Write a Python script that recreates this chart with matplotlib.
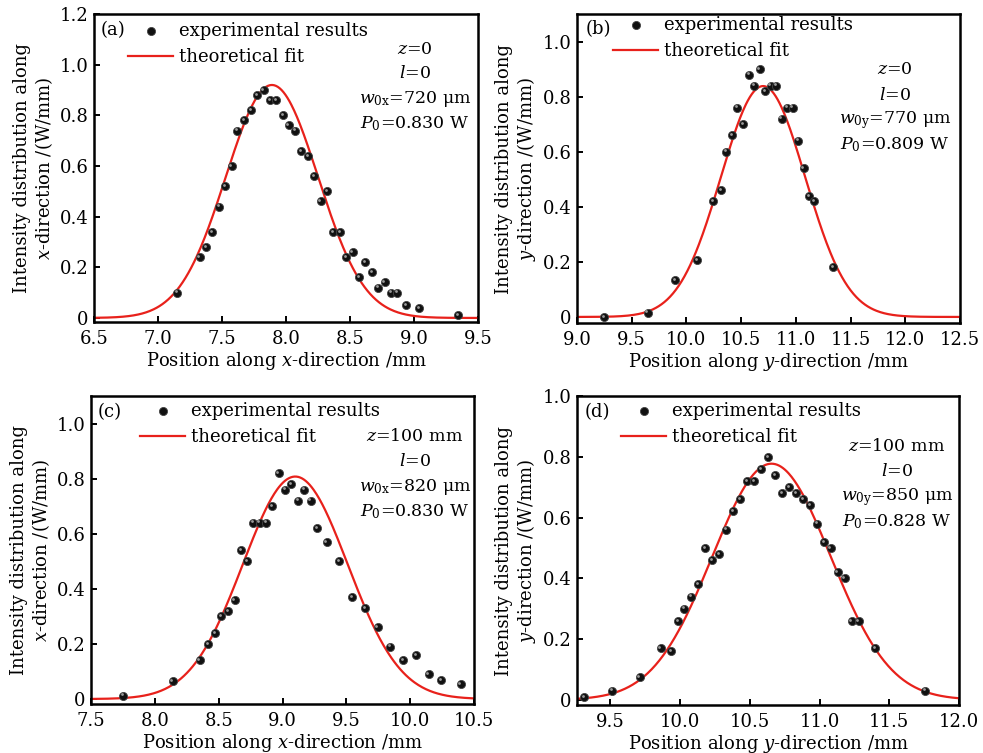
import numpy as np
import matplotlib
matplotlib.use("Agg")
import matplotlib.pyplot as plt
from matplotlib import transforms

plt.rcParams['font.family'] = ['DejaVu Serif']
plt.rcParams['mathtext.fontset'] = 'dejavuserif'

# (a) x-direction, z=0
xa = [7.15, 7.325, 7.375, 7.425, 7.475, 7.525, 7.575, 7.62, 7.675, 7.725, 7.775, 7.825,
      7.875, 7.92, 7.975, 8.02, 8.07, 8.12, 8.17, 8.22, 8.27, 8.32, 8.37, 8.42, 8.47,
      8.52, 8.57, 8.62, 8.67, 8.72, 8.77, 8.82, 8.87, 8.94, 9.04, 9.345]
ya = [0.10, 0.24, 0.28, 0.34, 0.44, 0.52, 0.60, 0.74, 0.78, 0.82, 0.88, 0.90,
      0.86, 0.86, 0.80, 0.76, 0.74, 0.66, 0.64, 0.56, 0.46, 0.50, 0.34, 0.34, 0.24,
      0.26, 0.16, 0.22, 0.18, 0.12, 0.14, 0.10, 0.10, 0.05, 0.04, 0.01]

# (b) y-direction, z=0
xb = [9.245, 9.645, 9.895, 10.095, 10.245, 10.32, 10.365, 10.415, 10.465, 10.52, 10.57,
      10.62, 10.67, 10.72, 10.77, 10.82, 10.87, 10.92, 10.97, 11.02, 11.07, 11.12,
      11.17, 11.34]
yb = [0.00, 0.016, 0.135, 0.205, 0.42, 0.46, 0.60, 0.66, 0.76, 0.70, 0.88,
      0.84, 0.90, 0.82, 0.84, 0.84, 0.72, 0.76, 0.76, 0.64, 0.54, 0.44,
      0.42, 0.18]

# (c) x-direction, z=100 mm
xc = [7.75, 8.14, 8.35, 8.42, 8.47, 8.52, 8.575, 8.625, 8.675, 8.725, 8.77, 8.82,
      8.87, 8.92, 8.97, 9.02, 9.07, 9.12, 9.17, 9.22, 9.27, 9.345, 9.445, 9.545,
      9.645, 9.745, 9.845, 9.945, 10.045, 10.145, 10.245, 10.395]
yc = [0.012, 0.064, 0.14, 0.20, 0.24, 0.30, 0.32, 0.36, 0.54, 0.50, 0.64, 0.64,
      0.64, 0.70, 0.82, 0.76, 0.78, 0.72, 0.76, 0.72, 0.62, 0.57, 0.50, 0.37,
      0.33, 0.26, 0.19, 0.14, 0.16, 0.09, 0.07, 0.055]

# (d) y-direction, z=100 mm
xd = [9.31, 9.51, 9.71, 9.86, 9.935, 9.985, 10.03, 10.08, 10.13, 10.18, 10.23, 10.28,
      10.33, 10.38, 10.43, 10.48, 10.53, 10.58, 10.63, 10.68, 10.73, 10.78, 10.83,
      10.88, 10.93, 10.98, 11.03, 11.08, 11.13, 11.18, 11.23, 11.28, 11.40, 11.755]
yd = [0.01, 0.03, 0.075, 0.17, 0.16, 0.26, 0.30, 0.34, 0.38, 0.50, 0.46, 0.48,
      0.56, 0.62, 0.66, 0.72, 0.72, 0.76, 0.80, 0.74, 0.68, 0.70, 0.68,
      0.66, 0.64, 0.58, 0.52, 0.50, 0.42, 0.40, 0.26, 0.26, 0.17, 0.03]

# Gaussian fit parameters: beam centre (mm), waist (mm), power (W)
centres = [7.89, 10.70, 9.10, 10.655]
waists = [0.720, 0.770, 0.820, 0.850]
powers = [0.830, 0.809, 0.830, 0.828]
z_text = ["0", "0", "100 mm", "100 mm"]
w_sub = ["0x", "0y", "0x", "0y"]
axis_name = ["x", "y", "x", "y"]
tags = ["(a)", "(b)", "(c)", "(d)"]

xlims = [(6.5, 9.5), (9.0, 12.5), (7.5, 10.5), (9.26, 12.0)]
xticks = [np.arange(6.5, 9.51, 0.5), np.arange(9.0, 12.51, 0.5),
          np.arange(7.5, 10.51, 0.5), np.arange(9.5, 12.01, 0.5)]
ylims = [(-0.016, 1.2), (-0.022, 1.1), (-0.018, 1.1), (-0.017, 1.0)]
yticks = [np.arange(0, 1.21, 0.2), np.arange(0, 1.01, 0.2),
          np.arange(0, 1.01, 0.2), np.arange(0, 1.01, 0.2)]

W, H = 983, 753
# axes boxes in pixels: left, top, right, bottom
boxes = [(94, 14, 478, 322), (577, 14, 960, 323), (91, 396, 474, 704), (577, 396, 959, 705)]
# legend top-left (px), annotation centre x and first line y (px)
leg_pos = [(128, 22), (613, 16), (140, 402), (621, 402)]
note_pos = [(415, 49), (895, 70), (415, 437), (897, 447)]
note_step = [25, 25, 25, 25]
tag_pos = [(113, 30), (598, 29), (110, 412), (597, 412)]

xs_all = [xa, xb, xc, xd]
ys_all = [ya, yb, yc, yd]

fig = plt.figure(figsize=(W / 100, H / 100), dpi=100)

def fmt(v):
    return "0" if abs(v) < 1e-9 else "%.1f" % v

for i in range(4):
    l, t, r, b = boxes[i]
    ax = fig.add_axes([l / W, 1 - b / H, (r - l) / W, (b - t) / H])

    xf = np.linspace(xlims[i][0], xlims[i][1], 400)
    fit = np.sqrt(2 / np.pi) * powers[i] / waists[i] * np.exp(-2 * (xf - centres[i]) ** 2 / waists[i] ** 2)

    ax.scatter(xs_all[i], ys_all[i], s=34, color='#111111', edgecolors='#444444',
               linewidths=0.6, zorder=3, label='experimental results')
    hl = transforms.offset_copy(ax.transData, fig=fig, x=-0.9, y=0.9, units='points')
    ax.scatter(xs_all[i], ys_all[i], s=4, color='#9a9a9a', linewidths=0, zorder=4, transform=hl)
    ax.plot(xf, fit, color='#e8211b', lw=1.6, zorder=2, label='theoretical fit')

    ax.set_xlim(*xlims[i])
    ax.set_ylim(*ylims[i])
    ax.set_xticks(xticks[i])
    ax.set_xticklabels([fmt(v) for v in xticks[i]])
    ax.set_yticks(yticks[i])
    ax.set_yticklabels([fmt(v) for v in yticks[i]])
    ax.tick_params(direction='in', length=4, width=1.4, labelsize=13,
                   top=False, right=False)
    ax.tick_params(axis='x', pad=6)
    ax.tick_params(axis='y', pad=4)
    for sp in ax.spines.values():
        sp.set_linewidth(1.8)

    n = axis_name[i]
    ax.set_xlabel("Position along $%s$-direction /mm" % n, fontsize=13, labelpad=1)
    ax.set_ylabel("Intensity distribution along\n$%s$-direction /(W/mm)" % n,
                  fontsize=13, labelpad=3, linespacing=1.15)

    def to_ax(px, py):
        return (px - l) / (r - l), 1 - (py - t) / (b - t)

    lx, ly = to_ax(*leg_pos[i])
    ax.legend(loc='upper left', bbox_to_anchor=(lx, ly), frameon=False, fontsize=13,
              borderpad=0, handlelength=2.5, handletextpad=0.35, labelspacing=0.45,
              borderaxespad=0)

    tx, ty = to_ax(*tag_pos[i])
    ax.text(tx, ty, tags[i], transform=ax.transAxes, fontsize=13, ha='center', va='center')

    nx, ny = note_pos[i]
    lines = ["$z$=%s" % z_text[i], "$l$=0",
             "$w_{\\mathrm{%s}}$=%d μm" % (w_sub[i], round(waists[i] * 1000)),
             "$P_0$=%.3f W" % powers[i]]
    for k, s in enumerate(lines):
        px, py = to_ax(nx, ny + k * note_step[i])
        ax.text(px, py, s, transform=ax.transAxes, fontsize=12.5, ha='center', va='center')

fig.savefig("out.png", dpi=100)
